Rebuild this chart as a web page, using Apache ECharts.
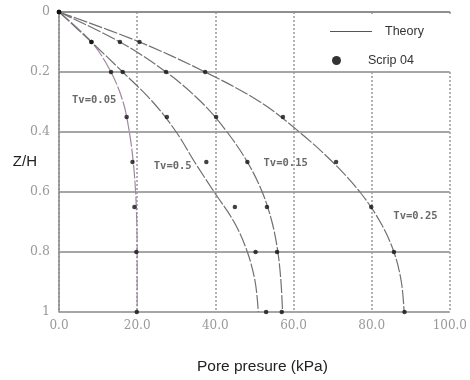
<!DOCTYPE html>
<html>
<head>
<meta charset="utf-8">
<script src="https://cdn.jsdelivr.net/npm/echarts@6/dist/echarts.min.js"></script>
<style>
  html, body { margin: 0; padding: 0; background: #fff; }
  #chart { width: 470px; height: 380px; }
</style>
</head>
<body>
<div id="chart"></div>
<script>
// Z/H of the measured points (Scrip 04)
var pointDepth = [0, 0.1, 0.2, 0.35, 0.5, 0.65, 0.8, 1];
var scrip005 = [0, 8.3, 13.3, 17.3, 18.8, 19.3, 19.8, 19.9];
var scrip05 = [0, 8.3, 16.3, 27.6, 37.7, 45.0, 50.3, 53.0];
var scrip015 = [0, 15.6, 27.4, 40.2, 48.2, 53.2, 55.8, 57.0];
var scrip025 = [0, 20.6, 37.4, 57.3, 70.9, 79.9, 85.7, 88.4];

// Z/H of the theory curves
var theoryDepth = [0, 0.1, 0.2, 0.3, 0.4, 0.5, 0.6, 0.7, 0.8, 0.9, 1];
var theory005 = [0, 8.3, 13.3, 16.4, 18.0, 19.0, 19.6, 19.9, 20.0, 20.0, 20.0];
var theory05 = [0, 8.3, 16.3, 24.0, 30.0, 34.7, 39.7, 44.8, 48.2, 50.2, 51.0];
var theory015 = [0, 15.6, 27.4, 36.4, 43.0, 48.2, 52.0, 54.5, 56.0, 56.8, 57.2];
var theory025 = [0, 20.6, 37.4, 51.5, 61.5, 70.0, 77.0, 82.2, 85.7, 87.6, 88.3];

var tvLabels = ['Tv=0.05', 'Tv=0.5', 'Tv=0.15', 'Tv=0.25'];
var tvLabelX = [9.0, 29.1, 58.0, 91.2];
var tvLabelY = [0.293, 0.513, 0.503, 0.68];

function pairs(xs, ys) {
  return xs.map(function (x, i) { return [x, ys[i]]; });
}

var chart = echarts.init(document.getElementById('chart'), null, { renderer: 'canvas' });

function theoryLine(values, color) {
  return {
    name: 'Theory',
    type: 'line',
    smooth: 0.35,
    symbol: 'none',
    data: pairs(values, theoryDepth),
    itemStyle: { color: color },
    lineStyle: { color: color, width: 1.2, type: [14, 2] },
    z: 2
  };
}

function scripPoints(values) {
  return {
    name: 'Scrip 04',
    type: 'scatter',
    symbol: 'circle',
    symbolSize: 4.5,
    itemStyle: { color: '#111' },
    data: pairs(values, pointDepth),
    z: 3
  };
}

var option = {
  animation: false,
  grid: { left: 59, top: 12, right: 13, bottom: 68 },
  graphic: [{
    type: 'rect',
    z: 3,
    shape: { x: 318, y: 14, width: 137, height: 56 },
    style: { fill: '#fff' }
  }],
  legend: [{
    data: [{ name: 'Theory', icon: 'rect', itemStyle: { color: '#555' } }],
    left: 325, top: 20,
    itemWidth: 42, itemHeight: 1.2,
    textStyle: { fontFamily: 'Liberation Sans', fontSize: 12.5, color: '#333', padding: [0, 0, 0, 8] }
  }, {
    data: [{ name: 'Scrip 04', icon: 'circle', itemStyle: { color: '#000' } }],
    left: 327, top: 49,
    itemWidth: 9, itemHeight: 9,
    textStyle: { fontFamily: 'Liberation Sans', fontSize: 12.5, color: '#333', padding: [0, 0, 0, 22] }
  }],
  xAxis: {
    type: 'value',
    min: 0, max: 100, interval: 20,
    name: 'Pore presure (kPa)',
    nameLocation: 'middle',
    nameGap: 47,
    nameTextStyle: { fontFamily: 'Liberation Sans', fontSize: 15.5, color: '#222', padding: [0, 0, 0, 16] },
    axisLine: { show: true, lineStyle: { color: '#888', width: 1.5 } },
    axisTick: { show: false },
    axisLabel: {
      margin: 8,
      fontFamily: 'DejaVu Serif', fontSize: 12, color: '#999',
      formatter: function (v) { return v.toFixed(1); }
    },
    splitLine: { show: true, lineStyle: { color: '#999', width: 1.5, type: [2, 2] } }
  },
  yAxis: {
    type: 'value',
    inverse: true,
    min: 0, max: 1, interval: 0.2,
    name: 'Z/H',
    nameLocation: 'middle',
    nameRotate: 0,
    nameGap: 22,
    nameMoveOverlap: false,
    nameTextStyle: { fontFamily: 'Liberation Sans', fontSize: 15, color: '#222' },
    axisLine: { show: true, lineStyle: { color: '#888', width: 1.5 } },
    axisTick: { show: false },
    axisLabel: {
      margin: 9,
      fontFamily: 'DejaVu Serif', fontSize: 12.5, color: '#999',
      formatter: function (v) { return (v === 0 || v === 1) ? String(v) : v.toFixed(1); }
    },
    splitLine: { show: true, lineStyle: { color: '#888', width: 1.5 } }
  },
  series: [
    theoryLine(theory005, '#a287a4'),
    theoryLine(theory05, '#707070'),
    theoryLine(theory015, '#707070'),
    theoryLine(theory025, '#707070'),
    scripPoints(scrip005),
    scripPoints(scrip05),
    scripPoints(scrip015),
    scripPoints(scrip025),
    {
      type: 'scatter',
      silent: true,
      symbolSize: 0,
      data: tvLabels.map(function (t, i) { return { name: t, value: [tvLabelX[i], tvLabelY[i]] }; }),
      label: {
        show: true,
        position: 'inside',
        formatter: '{b}',
        fontFamily: 'DejaVu Sans Mono', fontWeight: 'bold', fontSize: 10.5, color: '#444'
      },
      z: 4
    }
  ]
};

chart.setOption(option);
</script>
</body>
</html>
